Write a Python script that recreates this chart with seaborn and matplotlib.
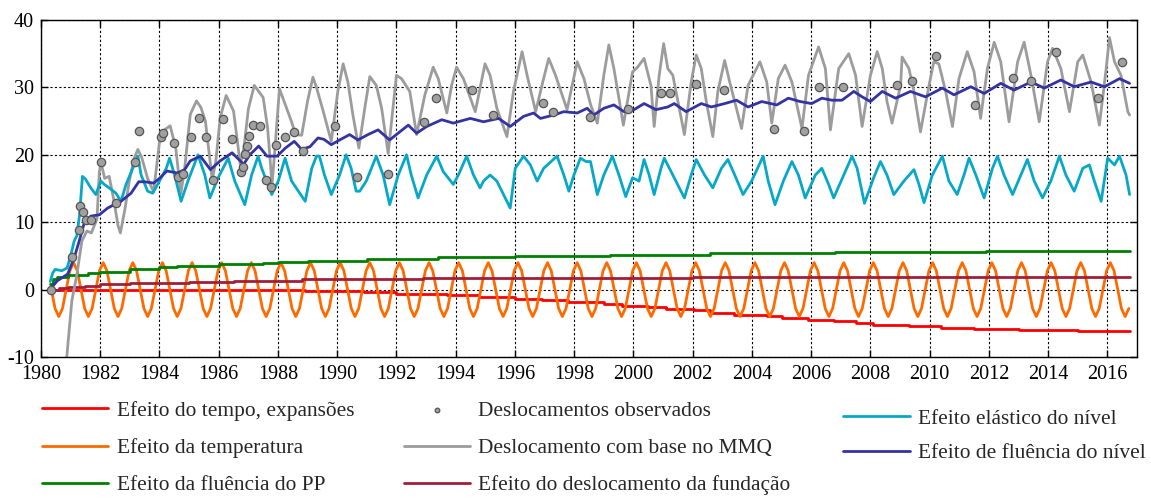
import numpy as np
import matplotlib
matplotlib.use("Agg")
import matplotlib.pyplot as plt
import seaborn as sns

# ---------------- data ----------------
x_ticks = list(range(1980, 2017, 2))
y_ticks = [-10, 0, 10, 20, 30, 40]

labels = {
    "red": "Efeito do tempo, expansões",
    "orange": "Efeito da temperatura",
    "green": "Efeito da fluência do PP",
    "obs": "Deslocamentos observados",
    "gray": "Deslocamento com base no MMQ",
    "maroon": "Efeito do deslocamento da fundação",
    "cyan": "Efeito elástico do nível",
    "blue": "Efeito de fluência do nível",
}

# time effect (steps)
red_t = [1980.3, 1988.9, 1990.9, 1992.0, 1993.7, 1994.8, 1996.0, 1996.9, 1997.8, 1999.0,
         1999.6, 2000.5, 2001.1, 2002.05, 2002.6, 2003.4, 2004.5, 2005.0, 2005.9, 2006.76,
         2007.5, 2008.1, 2009.3, 2010.4, 2011.5, 2013.0, 2015.0, 2016.75]
red_v = [0.0, -0.2, -0.4, -0.6, -0.85, -1.1, -1.35, -1.6, -1.85, -2.1,
         -2.5, -2.6, -2.9, -3.1, -3.4, -3.7, -3.95, -4.2, -4.45, -4.7,
         -4.95, -5.2, -5.45, -5.7, -5.85, -6.05, -6.2, -6.2]

# creep of PP (steps)
green_t = [1980.3, 1980.4, 1980.55, 1980.9, 1981.6, 1982.0, 1983.0, 1984.0, 1984.6, 1986.0,
           1987.5, 1988.0, 1989.0, 1991.0, 1993.4, 1996.0, 1999.2, 2002.6, 2006.8, 2011.9, 2016.75]
green_v = [0.8, 1.6, 1.9, 2.2, 2.4, 2.6, 3.0, 3.3, 3.5, 3.8,
           3.95, 4.05, 4.3, 4.55, 4.8, 5.05, 5.2, 5.4, 5.6, 5.8, 5.8]

# foundation displacement (steps)
maroon_t = [1980.3, 1980.6, 1980.9, 1981.5, 1982.0, 1983.0, 1985.0, 1986.5, 1988.8, 1992.9, 2002.0, 2016.75]
maroon_v = [0.0, 0.2, 0.35, 0.6, 0.8, 1.0, 1.2, 1.3, 1.5, 1.65, 1.9, 1.9]

# temperature effect, sampled every 1/8 year starting 1980.35
temp_start, temp_step = 1980.35, 0.125
temp_v = [
    0, -2.8, -4, -2.8, 0, 2.8, 4, 2.8,
    0, -2.8, -4, -2.8, 0, 2.8, 4, 2.8,
    0, -2.8, -4, -2.8, 0, 2.8, 4, 2.8,
    0, -2.8, -4, -2.8, 0, 2.8, 4, 2.8,
    0, -2.8, -4, -2.8, 0, 2.8, 4, 2.8,
    0, -2.8, -4, -2.8, 0, 2.8, 4, 2.8,
    0, -2.8, -4, -2.8, 0, 2.8, 4, 2.8,
    0, -2.8, -4, -2.8, 0, 2.8, 4, 2.8,
    0, -2.8, -4, -2.8, 0, 2.8, 4, 2.8,
    0, -2.8, -4, -2.8, 0, 2.8, 4, 2.8,
    0, -2.8, -4, -2.8, 0, 2.8, 4, 2.8,
    0, -2.8, -4, -2.8, 0, 2.8, 4, 2.8,
    0, -2.8, -4, -2.8, 0, 2.8, 4, 2.8,
    0, -2.8, -4, -2.8, 0, 2.8, 4, 2.8,
    0, -2.8, -4, -2.8, 0, 2.8, 4, 2.8,
    0, -2.8, -4, -2.8, 0, 2.8, 4, 2.8,
    0, -2.8, -4, -2.8, 0, 2.8, 4, 2.8,
    0, -2.8, -4, -2.8, 0, 2.8, 4, 2.8,
    0, -2.8, -4, -2.8, 0, 2.8, 4, 2.8,
    0, -2.8, -4, -2.8, 0, 2.8, 4, 2.8,
    0, -2.8, -4, -2.8, 0, 2.8, 4, 2.8,
    0, -2.8, -4, -2.8, 0, 2.8, 4, 2.8,
    0, -2.8, -4, -2.8, 0, 2.8, 4, 2.8,
    0, -2.8, -4, -2.8, 0, 2.8, 4, 2.8,
    0, -2.8, -4, -2.8, 0, 2.8, 4, 2.8,
    0, -2.8, -4, -2.8, 0, 2.8, 4, 2.8,
    0, -2.8, -4, -2.8, 0, 2.8, 4, 2.8,
    0, -2.8, -4, -2.8, 0, 2.8, 4, 2.8,
    0, -2.8, -4, -2.8, 0, 2.8, 4, 2.8,
    0, -2.8, -4, -2.8, 0, 2.8, 4, 2.8,
    0, -2.8, -4, -2.8, 0, 2.8, 4, 2.8,
    0, -2.8, -4, -2.8, 0, 2.8, 4, 2.8,
    0, -2.8, -4, -2.8, 0, 2.8, 4, 2.8,
    0, -2.8, -4, -2.8, 0, 2.8, 4, 2.8,
    0, -2.8, -4, -2.8, 0, 2.8, 4, 2.8,
    0, -2.8, -4, -2.8, 0, 2.8, 4, 2.8,
    0, -2.8, -4, -2.8,
]

# least-squares (MMQ) displacement
gray_t = [1980.75, 1980.87, 1981.04, 1981.21, 1981.38, 1981.55, 1981.7, 1981.89, 1981.97, 1982.03,
          1982.15, 1982.3, 1982.45, 1982.6, 1982.68, 1982.84, 1982.98, 1983.15, 1983.27, 1983.4,
          1983.6, 1983.8, 1984.03, 1984.2, 1984.36, 1984.55, 1984.72, 1984.85, 1985.04, 1985.25,
          1985.4, 1985.55, 1985.78, 1985.9, 1986.05, 1986.25, 1986.5, 1986.73, 1986.85, 1987.0,
          1987.2, 1987.5, 1987.65, 1987.8, 1987.9, 1988.05, 1988.2, 1988.45, 1988.6, 1988.8,
          1989.0, 1989.18, 1989.3, 1989.5, 1989.8, 1990.02, 1990.2, 1990.36, 1990.53, 1990.73,
          1990.93, 1991.1, 1991.32, 1991.5, 1991.72, 1992.0, 1992.17, 1992.45, 1992.68, 1992.96,
          1993.24, 1993.41, 1993.7, 1993.86, 1994.03, 1994.26, 1994.66, 1994.99, 1995.16, 1995.39,
          1995.73, 1995.95, 1996.24, 1996.41, 1996.7, 1996.95, 1997.14, 1997.37, 1997.76, 1998.1,
          1998.33, 1998.55, 1998.78, 1999.0, 1999.17, 1999.34, 1999.51, 1999.66, 1999.97, 2000.14,
          2000.36, 2000.59, 2000.7, 2000.87, 2001.02, 2001.16, 2001.33, 2001.72, 2001.95, 2002.12,
          2002.29, 2002.46, 2002.68, 2002.85, 2003.08, 2003.25, 2003.65, 2003.87, 2004.27, 2004.5,
          2004.67, 2004.89, 2005.12, 2005.35, 2005.69, 2005.91, 2006.25, 2006.48, 2006.65, 2006.93,
          2007.27, 2007.5, 2007.72, 2008.0, 2008.23, 2008.4, 2008.56, 2008.73, 2009.02, 2009.07,
          2009.3, 2009.47, 2009.69, 2009.98, 2010.14, 2010.31, 2010.54, 2010.77, 2010.99, 2011.27,
          2011.5, 2011.72, 2011.95, 2012.18, 2012.4, 2012.68, 2012.97, 2013.19, 2013.42, 2013.7,
          2013.98, 2014.15, 2014.43, 2014.72, 2015.0, 2015.17, 2015.45, 2015.73, 2015.96, 2016.07,
          2016.24, 2016.46, 2016.69, 2016.75]
gray_v = [-16.0, -10.0, -1.7, 2.2, 7.2, 8.7, 8.4, 10.5, 17.5, 18.8,
          16.5, 16.8, 13.5, 9.5, 8.4, 12.1, 16.1, 19.5, 20.8, 19.6,
          16.5, 14.5, 23.0, 23.8, 24.3, 21.0, 14.2, 18.0, 26.0, 28.0,
          27.0, 25.0, 16.3, 19.0, 25.5, 28.8, 26.5, 18.5, 21.0, 26.8,
          30.3, 28.5, 24.0, 15.6, 21.0, 29.8, 28.0, 25.0, 23.0, 22.9,
          28.0, 31.5, 30.0, 26.9, 22.0, 29.4, 33.5, 30.8, 25.9, 21.0,
          26.9, 31.6, 30.3, 26.9, 20.2, 31.8, 31.3, 29.4, 23.0, 28.9,
          33.0, 31.3, 26.2, 30.3, 33.0, 31.3, 26.4, 33.5, 31.8, 26.9,
          22.7, 29.4, 35.3, 31.8, 26.4, 31.0, 34.3, 31.8, 26.7, 33.8,
          31.3, 27.5, 24.7, 31.8, 36.3, 32.8, 28.4, 24.4, 32.3, 33.0,
          34.3, 30.3, 24.2, 31.8, 36.5, 32.8, 31.8, 23.0, 30.8, 34.8,
          32.8, 27.9, 22.7, 29.4, 34.0, 30.8, 23.9, 30.3, 33.8, 30.8,
          24.7, 31.3, 33.3, 30.8, 23.9, 31.8, 36.0, 32.8, 23.7, 32.8,
          35.0, 31.8, 24.2, 31.8, 35.3, 32.8, 27.9, 24.7, 30.3, 34.5,
          32.8, 29.4, 23.4, 30.3, 33.8, 33.5, 29.4, 24.2, 31.3, 35.3,
          32.3, 25.4, 32.8, 36.7, 33.8, 24.9, 33.8, 36.7, 31.8, 24.9,
          33.8, 35.8, 32.8, 26.4, 33.8, 34.8, 30.8, 24.4, 32.8, 37.4,
          33.8, 31.8, 26.4, 25.9]

# elastic effect of reservoir level
cyan_t = [1980.31, 1980.4, 1980.48, 1980.7, 1980.88, 1981.0, 1981.12, 1981.21, 1981.3, 1981.4,
          1981.5, 1981.68, 1981.85, 1982.02, 1982.14, 1982.3, 1982.53, 1982.7, 1982.87, 1983.1,
          1983.27, 1983.38, 1983.6, 1983.77, 1984.0, 1984.23, 1984.34, 1984.51, 1984.73, 1984.96,
          1985.3, 1985.53, 1985.7, 1985.98, 1986.32, 1986.54, 1986.88, 1987.11, 1987.33, 1987.45,
          1987.79, 1988.01, 1988.24, 1988.46, 1988.92, 1989.14, 1989.3, 1989.4, 1989.57, 1989.8,
          1990.08, 1990.3, 1990.47, 1990.64, 1990.76, 1990.98, 1991.32, 1991.55, 1991.77, 1992.06,
          1992.34, 1992.5, 1992.73, 1993.02, 1993.36, 1993.58, 1993.92, 1994.09, 1994.37, 1994.6,
          1994.82, 1994.94, 1995.16, 1995.39, 1995.84, 1996.01, 1996.29, 1996.52, 1996.75, 1996.97,
          1997.42, 1997.65, 1997.82, 1997.99, 1998.21, 1998.4, 1998.55, 1998.78, 1999.0, 1999.29,
          1999.51, 1999.74, 1999.97, 2000.19, 2000.36, 2000.53, 2000.7, 2000.93, 2001.04, 2001.33,
          2001.72, 2001.95, 2002.12, 2002.4, 2002.68, 2002.97, 2003.19, 2003.42, 2003.7, 2003.99,
          2004.38, 2004.55, 2004.78, 2005.06, 2005.35, 2005.57, 2005.8, 2006.14, 2006.36, 2006.59,
          2006.76, 2007.1, 2007.38, 2007.55, 2007.8, 2008.11, 2008.34, 2008.56, 2008.79, 2009.13,
          2009.47, 2009.64, 2009.81, 2010.09, 2010.43, 2010.65, 2010.93, 2011.16, 2011.33, 2011.56,
          2011.84, 2012.12, 2012.29, 2012.51, 2012.8, 2013.08, 2013.3, 2013.53, 2013.81, 2014.09,
          2014.38, 2014.6, 2014.88, 2015.17, 2015.39, 2015.56, 2015.79, 2016.01, 2016.24, 2016.41,
          2016.63, 2016.75]
cyan_v = [1.2, 2.5, 3.0, 2.8, 3.2, 5.0, 7.2, 8.0, 11.0, 16.8,
          16.4, 15.1, 14.1, 16.1, 15.6, 15.1, 14.3, 13.1, 15.6, 18.0,
          19.8, 17.0, 14.6, 14.3, 16.1, 18.0, 19.5, 17.0, 13.1, 16.1,
          20.0, 17.0, 13.6, 16.6, 19.5, 16.1, 12.6, 17.0, 19.8, 18.0,
          14.1, 16.1, 19.5, 16.1, 13.1, 18.0, 19.8, 19.8, 17.0, 14.1,
          17.0, 20.0, 18.0, 14.6, 14.6, 16.1, 19.8, 17.0, 12.6, 17.0,
          20.0, 17.0, 13.6, 17.0, 19.8, 17.5, 15.6, 17.0, 19.8, 17.0,
          15.1, 16.1, 17.0, 16.1, 12.1, 18.0, 19.8, 18.5, 16.1, 18.0,
          19.8, 17.0, 14.6, 17.0, 19.5, 19.0, 19.0, 14.1, 17.0, 19.8,
          17.0, 13.8, 16.6, 16.1, 19.3, 17.0, 14.1, 18.0, 19.5, 17.0,
          13.6, 17.0, 19.3, 17.0, 15.1, 18.0, 19.3, 17.0, 14.1, 16.1,
          19.8, 16.1, 12.6, 16.1, 19.0, 17.0, 13.6, 17.0, 18.0, 15.6,
          13.6, 17.0, 19.8, 18.0, 12.8, 16.6, 19.0, 17.0, 14.1, 16.1,
          17.8, 15.6, 12.9, 17.0, 19.8, 16.1, 14.1, 17.0, 19.5, 17.0,
          13.6, 18.0, 19.8, 17.0, 14.1, 17.0, 19.3, 16.1, 13.6, 16.1,
          19.8, 17.0, 14.6, 18.0, 18.5, 16.1, 13.1, 19.5, 18.5, 19.8,
          17.0, 14.1]

# creep effect of reservoir level
blue_t = [1980.3, 1980.55, 1980.9, 1981.12, 1981.29, 1981.46, 1981.68, 1981.97, 1982.25, 1982.47,
          1982.7, 1983.04, 1983.3, 1983.5, 1983.8, 1984.0, 1984.25, 1984.6, 1984.85, 1985.04,
          1985.38, 1985.72, 1986.05, 1986.45, 1986.84, 1987.05, 1987.35, 1987.63, 1987.97, 1988.25,
          1988.55, 1988.8, 1989.08, 1989.35, 1989.55, 1989.8, 1990.08, 1990.42, 1990.7, 1991.04,
          1991.38, 1991.77, 1992.11, 1992.4, 1992.68, 1993.02, 1993.53, 1993.92, 1994.49, 1994.94,
          1995.45, 1995.84, 1996.29, 1996.63, 1996.86, 1997.31, 1997.65, 1998.1, 1998.44, 1998.66,
          1999.0, 1999.34, 1999.68, 2000.02, 2000.36, 2000.76, 2001.16, 2001.38, 2001.78, 2002.29,
          2002.63, 2003.08, 2003.48, 2003.87, 2004.33, 2004.84, 2005.23, 2005.63, 2006.02, 2006.36,
          2006.7, 2007.04, 2007.44, 2007.72, 2008.0, 2008.4, 2008.85, 2009.35, 2009.86, 2010.43,
          2010.82, 2011.39, 2011.84, 2012.4, 2012.85, 2013.42, 2013.87, 2014.43, 2014.88, 2015.45,
          2015.9, 2016.41, 2016.75]
blue_v = [0.0, 1.3, 2.3, 4.7, 7.2, 9.9, 10.9, 11.1, 12.1, 12.6,
          13.1, 14.3, 16.0, 16.0, 15.8, 16.5, 17.6, 17.3, 17.8, 19.1,
          19.8, 17.8, 19.1, 20.3, 18.6, 20.0, 21.3, 19.8, 19.8, 21.0,
          22.0, 20.8, 21.2, 22.5, 22.3, 21.5, 22.2, 23.0, 22.2, 23.0,
          23.7, 22.2, 23.4, 24.4, 23.2, 24.2, 25.2, 24.7, 25.4, 24.9,
          25.4, 24.2, 25.7, 26.2, 25.4, 25.9, 26.4, 26.2, 26.9, 25.9,
          26.9, 27.4, 26.4, 26.7, 27.6, 26.7, 27.1, 27.6, 26.4, 27.6,
          27.1, 27.6, 28.1, 27.1, 27.9, 27.4, 28.4, 27.9, 27.6, 28.4,
          28.1, 28.1, 29.4, 28.6, 27.9, 29.4, 28.4, 29.4, 28.6, 29.9,
          28.9, 30.1, 29.1, 30.6, 29.6, 30.8, 29.9, 31.1, 30.1, 30.8,
          30.1, 31.3, 30.6]

# observed displacements
obs_t = [1980.33, 1981.03, 1981.28, 1981.31, 1981.43, 1981.52, 1981.69, 1982.01, 1982.52, 1983.17,
         1983.31, 1984.05, 1984.12, 1984.5, 1984.61, 1984.8, 1985.05, 1985.34, 1985.57, 1985.79,
         1986.13, 1986.44, 1986.74, 1986.83, 1986.9, 1986.95, 1987.03, 1987.15, 1987.38, 1987.6,
         1987.75, 1987.94, 1988.24, 1988.54, 1988.83, 1989.94, 1990.67, 1991.72, 1992.92, 1993.32,
         1994.56, 1995.25, 1996.96, 1997.29, 1998.53, 1999.83, 2000.92, 2001.22, 2002.11, 2003.06,
         2004.76, 2005.75, 2006.25, 2007.09, 2008.89, 2009.42, 2010.23, 2011.52, 2012.81, 2013.41,
         2014.25, 2015.68, 2016.48]
obs_v = [0.0, 4.9, 8.8, 12.4, 11.5, 10.4, 10.4, 19.0, 12.8, 19.0,
         23.5, 22.7, 23.2, 21.8, 16.7, 17.1, 22.7, 25.4, 22.7, 16.3,
         25.3, 22.4, 17.4, 18.2, 20.1, 21.3, 22.8, 24.4, 24.2, 16.3,
         15.2, 21.5, 22.6, 23.4, 20.5, 24.2, 16.7, 17.2, 24.9, 28.5,
         29.6, 25.9, 27.7, 26.4, 25.6, 26.8, 29.2, 29.2, 30.5, 29.6,
         23.8, 23.6, 30.1, 30.1, 30.3, 31.0, 34.7, 27.4, 31.4, 30.9,
         35.2, 28.4, 33.8]

colors = {
    "red": "#FF0000",
    "orange": "#FF6A00",
    "green": "#008000",
    "obs": "#A0A0A0",
    "gray": "#9C9C9C",
    "maroon": "#A01E3A",
    "cyan": "#06A8C8",
    "blue": "#3333A3",
}

# ---------------- style ----------------
sns.set_style("ticks")
plt.rcParams["font.family"] = ["Liberation Serif", "DejaVu Serif"]
plt.rcParams["font.size"] = 14
plt.rcParams["axes.unicode_minus"] = False

W, H = 1151, 498
fig = plt.figure(figsize=(W / 100, H / 100), dpi=100)
ax = fig.add_axes([41 / W, 1 - 357 / H, (1137 - 41) / W, (357 - 20) / H])

LW = 2.0
handles = {}

def line(key, t, v, **kw):
    sns.lineplot(x=t, y=v, ax=ax, color=colors[key], lw=LW, estimator=None,
                 sort=False, legend=False, **kw)
    handles[key] = ax.lines[-1]

temp_t = temp_start + temp_step * np.arange(len(temp_v))

line("red", red_t, red_v, drawstyle="steps-post")
line("orange", temp_t, temp_v)
line("maroon", maroon_t, maroon_v, drawstyle="steps-post")
line("green", green_t, green_v, drawstyle="steps-post")
line("gray", gray_t, gray_v)
line("cyan", cyan_t, cyan_v)
line("blue", blue_t, blue_v)

sns.scatterplot(x=obs_t, y=obs_v, ax=ax, s=36, color=colors["obs"],
                edgecolor="#555555", linewidth=0.9, zorder=5, legend=False)
handles["obs"] = ax.collections[-1]

ax.set_xlim(1980, 2017)
ax.set_ylim(-10, 40)
ax.set_xticks(x_ticks)
ax.set_yticks(y_ticks)
ax.set_xlabel("")
ax.set_ylabel("")
ax.grid(True, color="black", linestyle=(0, (2, 2)), lw=0.8)
ax.set_axisbelow(True)
ax.tick_params(direction="in", top=True, right=True, length=5, width=1,
               labelsize=14.5, colors="black")
ax.tick_params(axis="x", pad=6)
ax.tick_params(axis="y", pad=5)
for s in ax.spines.values():
    s.set_visible(True)
    s.set_color("black")
    s.set_linewidth(1.0)

if ax.get_legend() is not None:
    ax.get_legend().remove()

FS = 15.4
keys1 = ["red", "orange", "green", "obs", "gray", "maroon"]
leg1 = fig.legend([handles[k] for k in keys1], [labels[k] for k in keys1],
                  ncol=2, loc="upper left", bbox_to_anchor=(42 / W, 1 - 401 / H),
                  frameon=False, borderpad=0, borderaxespad=0, handlelength=3.1,
                  handletextpad=0.4, columnspacing=2.3, labelspacing=0.8,
                  fontsize=FS, markerscale=0.55)
keys2 = ["cyan", "blue"]
leg2 = fig.legend([handles[k] for k in keys2], [labels[k] for k in keys2],
                  ncol=1, loc="upper left", bbox_to_anchor=(843 / W, 1 - 409 / H),
                  frameon=False, borderpad=0, borderaxespad=0, handlelength=3.13,
                  handletextpad=0.37, labelspacing=0.66, fontsize=FS)

fig.savefig("out.png", dpi=100)
